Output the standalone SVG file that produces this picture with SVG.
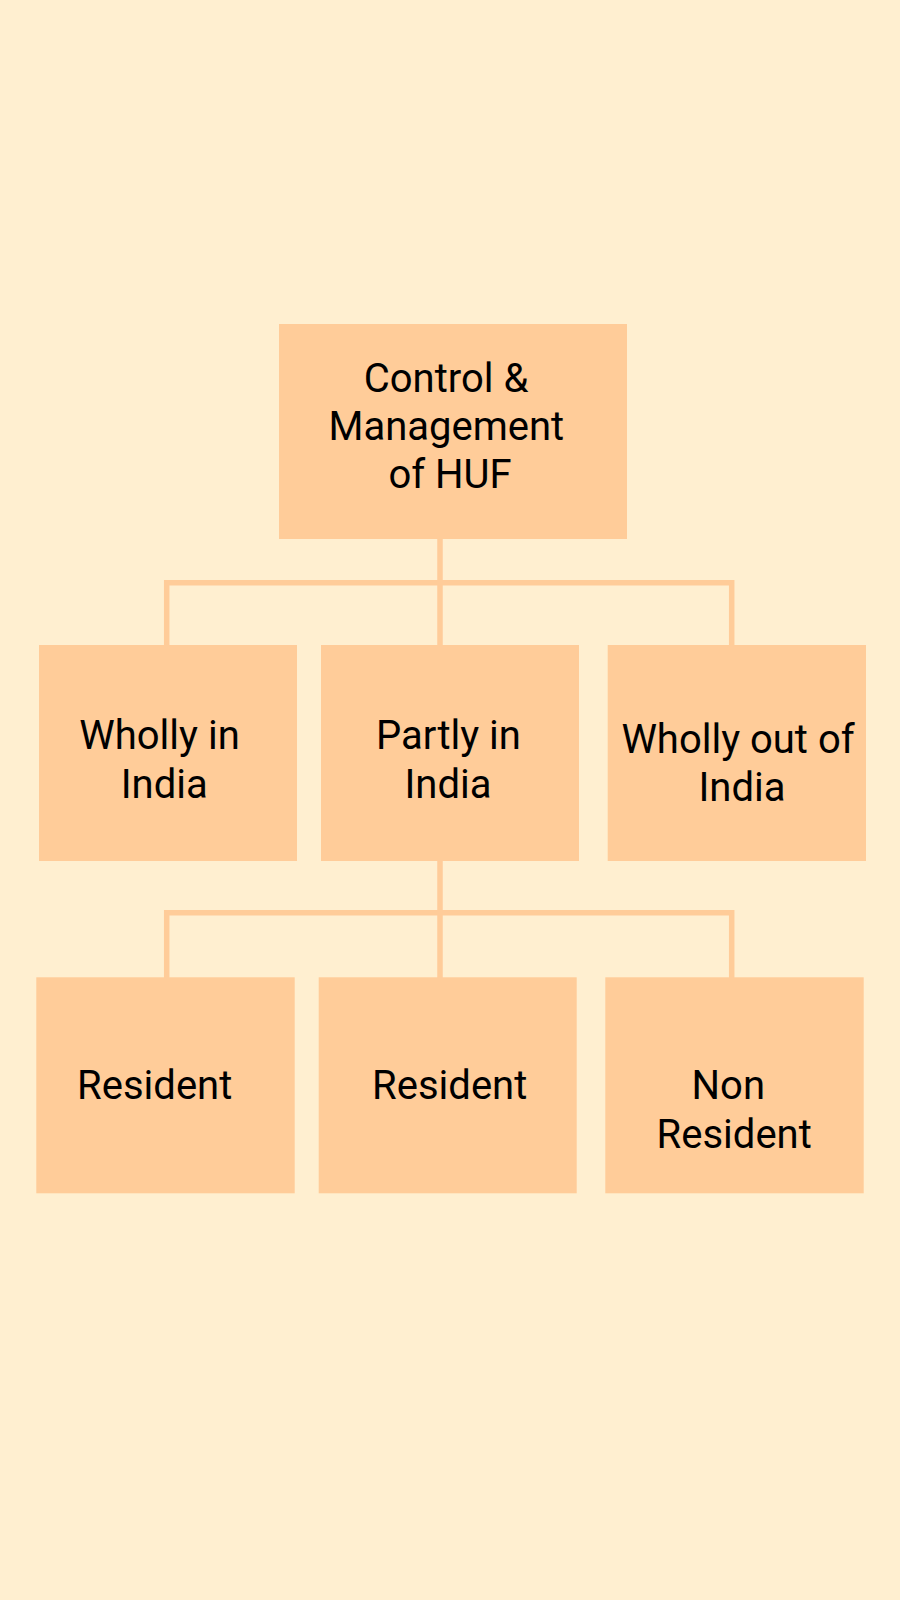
<svg xmlns="http://www.w3.org/2000/svg" width="900" height="1600" viewBox="0 0 900 1600">
<style>
.box{fill:#FFCC99}
.lbl{font-family:Roboto,"Liberation Sans",sans-serif;font-size:40px;fill:#000;text-anchor:middle}
.conn{stroke:#FFCC99;stroke-width:5.5;fill:none;stroke-linecap:square}
</style>
<rect width="900" height="1600" fill="#FFEFD0"/>
<g id="connectors">
<path class="conn" d="M440 539V645M166.7 582.7H731.7M166.7 582.7V645M731.7 582.7V645"/>
<path class="conn" d="M440 861V977M166.7 912.7H731.7M166.7 912.7V977M731.7 912.7V977"/>
</g>
<g id="n-root">
<rect class="box" x="279" y="324" width="348" height="215"/>
<text class="lbl" x="446" y="391.7">Control &amp;</text>
<text class="lbl" x="446.3" y="440">Management</text>
<text class="lbl" x="450" y="488.3">of HUF</text>
</g>
<g id="n-wholly-in">
<rect class="box" x="39" y="645" width="258" height="216"/>
<text class="lbl" x="159.5" y="749">Wholly in</text>
<text class="lbl" x="164.2" y="797.7">India</text>
</g>
<g id="n-partly-in">
<rect class="box" x="321" y="645" width="258" height="216"/>
<text class="lbl" x="448.5" y="749">Partly in</text>
<text class="lbl" x="448" y="797.7">India</text>
</g>
<g id="n-wholly-out">
<rect class="box" x="607.7" y="645" width="258.3" height="216"/>
<text class="lbl" x="738" y="752.7">Wholly out of</text>
<text class="lbl" x="742" y="800.7">India</text>
</g>
<g id="n-resident-1">
<rect class="box" x="36.3" y="977.3" width="258.4" height="216"/>
<text class="lbl" x="154.7" y="1099.3">Resident</text>
</g>
<g id="n-resident-2">
<rect class="box" x="318.7" y="977.3" width="258" height="216"/>
<text class="lbl" x="449.7" y="1099.3">Resident</text>
</g>
<g id="n-non-resident">
<rect class="box" x="605.3" y="977.3" width="258.4" height="216"/>
<text class="lbl" x="728.3" y="1099.3">Non</text>
<text class="lbl" x="734.2" y="1148.3">Resident</text>
</g>
</svg>
